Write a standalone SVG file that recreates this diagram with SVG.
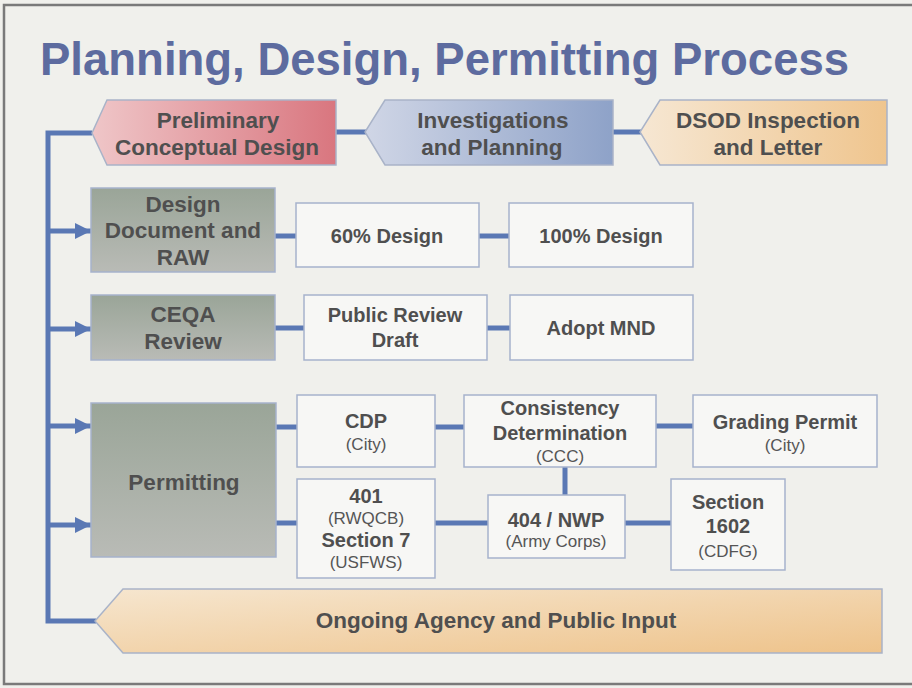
<svg xmlns="http://www.w3.org/2000/svg" width="912" height="688" viewBox="0 0 912 688">
<defs>
<linearGradient id="gRed" x1="0" y1="0" x2="1" y2="0"><stop offset="0" stop-color="#efc6c8"/><stop offset="1" stop-color="#d9767f"/></linearGradient>
<linearGradient id="gBlue" x1="0" y1="0" x2="1" y2="0"><stop offset="0" stop-color="#d0d6e6"/><stop offset="1" stop-color="#8ea2c8"/></linearGradient>
<linearGradient id="gOrange" x1="0" y1="0" x2="1" y2="0"><stop offset="0" stop-color="#f6e7d3"/><stop offset="1" stop-color="#efc58e"/></linearGradient>
<linearGradient id="gOrange2" x1="0" y1="0" x2="1" y2="1"><stop offset="0" stop-color="#f6e6cf"/><stop offset="1" stop-color="#eec38b"/></linearGradient>
<linearGradient id="gGray" x1="0" y1="0" x2="0" y2="1"><stop offset="0" stop-color="#9aa598"/><stop offset="1" stop-color="#b9bbb6"/></linearGradient>
<marker id="arr" markerUnits="userSpaceOnUse" markerWidth="18" markerHeight="18" refX="16" refY="8" orient="auto"><path d="M0,0 L16,8 L0,16 z" fill="#5a78b4"/></marker>
</defs>
<style>
.bg{fill:#f0f0ec}
.frame{fill:none;stroke:#7a7a7a;stroke-width:2.5}
.title{font-family:"Liberation Sans",Arial,sans-serif;font-weight:bold;font-size:45.5px;fill:#5d6b9f}
.ln{fill:none;stroke:#5a78b4;stroke-width:5}
.box{fill:#f7f7f5;stroke:#a6b2cc;stroke-width:1.5}
.shp{stroke:#a9b3c8;stroke-width:1.5}
.gray{fill:url(#gGray);stroke:#a6b2cc;stroke-width:1.5}
.t{font-family:"Liberation Sans",Arial,sans-serif;font-weight:bold;fill:#4f4f4f;text-anchor:middle}
.t22{font-size:22.5px}
.t20{font-size:20px}
.s{font-family:"Liberation Sans",Arial,sans-serif;font-size:17px;fill:#555;text-anchor:middle}
</style>
<rect class="bg" x="0" y="0" width="912" height="688"/>
<rect class="frame" x="4" y="5" width="930" height="679"/>
<text class="title" x="40" y="75">Planning, Design, Permitting Process</text>

<g id="connectors">
<path class="ln" d="M92,133 H48 V621 H96"/>
<path class="ln" d="M48,231 H91" marker-end="url(#arr)"/>
<path class="ln" d="M48,329 H91" marker-end="url(#arr)"/>
<path class="ln" d="M48,426 H91" marker-end="url(#arr)"/>
<path class="ln" d="M48,525 H91" marker-end="url(#arr)"/>
<path class="ln" d="M336,132 H366"/>
<path class="ln" d="M613,132 H641"/>
<path class="ln" d="M275,236 H296"/>
<path class="ln" d="M479,236 H509"/>
<path class="ln" d="M275,328 H304"/>
<path class="ln" d="M487,328 H510"/>
<path class="ln" d="M276,427 H297"/>
<path class="ln" d="M435,427 H464"/>
<path class="ln" d="M656,426 H693"/>
<path class="ln" d="M276,523 H297"/>
<path class="ln" d="M435,523 H488"/>
<path class="ln" d="M565,467 V495"/>
<path class="ln" d="M625,523 H671"/>
</g>

<g id="preliminary">
<polygon class="shp" fill="url(#gRed)" points="107,100 336,100 336,165 107,165 92,133"/>
<text class="t t22" x="218" y="128">Preliminary</text>
<text class="t t22" x="217" y="155">Conceptual Design</text>
</g>
<g id="investigations">
<polygon class="shp" fill="url(#gBlue)" points="385,100 613,100 613,165 385,165 365,132"/>
<text class="t t22" x="493" y="128">Investigations</text>
<text class="t t22" x="492" y="155">and Planning</text>
</g>
<g id="dsod">
<polygon class="shp" fill="url(#gOrange)" points="660,100 887,100 887,165 660,165 640,132"/>
<text class="t t22" x="768" y="128">DSOD Inspection</text>
<text class="t t22" x="768" y="155">and Letter</text>
</g>

<g id="design-doc">
<rect class="gray" x="91" y="188" width="184" height="84"/>
<text class="t t22" x="183" y="212">Design</text>
<text class="t t22" x="183" y="238">Document and</text>
<text class="t t22" x="183" y="265">RAW</text>
</g>
<g id="design60">
<rect class="box" x="296" y="203" width="183" height="64"/>
<text class="t t20" x="387" y="243">60% Design</text>
</g>
<g id="design100">
<rect class="box" x="509" y="203" width="184" height="64"/>
<text class="t t20" x="601" y="243">100% Design</text>
</g>

<g id="ceqa">
<rect class="gray" x="91" y="295" width="184" height="65"/>
<text class="t t22" x="183" y="322">CEQA</text>
<text class="t t22" x="183" y="349">Review</text>
</g>
<g id="public-review">
<rect class="box" x="304" y="295" width="183" height="65"/>
<text class="t t20" x="395" y="322">Public Review</text>
<text class="t t20" x="395" y="347">Draft</text>
</g>
<g id="adopt-mnd">
<rect class="box" x="510" y="295" width="183" height="65"/>
<text class="t t20" x="601" y="335">Adopt MND</text>
</g>

<g id="permitting">
<rect class="gray" x="91" y="403" width="185" height="154"/>
<text class="t t22" x="184" y="490">Permitting</text>
</g>
<g id="cdp">
<rect class="box" x="297" y="395" width="138" height="72"/>
<text class="t t20" x="366" y="428">CDP</text>
<text class="s" x="366" y="450">(City)</text>
</g>
<g id="consistency">
<rect class="box" x="464" y="395" width="192" height="72"/>
<text class="t t20" x="560" y="415">Consistency</text>
<text class="t t20" x="560" y="440">Determination</text>
<text class="s" x="560" y="462">(CCC)</text>
</g>
<g id="grading">
<rect class="box" x="693" y="395" width="184" height="72"/>
<text class="t t20" x="785" y="429">Grading Permit</text>
<text class="s" x="785" y="451">(City)</text>
</g>
<g id="p401">
<rect class="box" x="297" y="479" width="138" height="99"/>
<text class="t t20" x="366" y="503">401</text>
<text class="s" x="366" y="524">(RWQCB)</text>
<text class="t t20" x="366" y="547">Section 7</text>
<text class="s" x="366" y="568">(USFWS)</text>
</g>
<g id="p404">
<rect class="box" x="488" y="495" width="137" height="63"/>
<text class="t t20" x="556" y="527">404 / NWP</text>
<text class="s" x="556" y="547">(Army Corps)</text>
</g>
<g id="s1602">
<rect class="box" x="671" y="479" width="114" height="91"/>
<text class="t t20" x="728" y="509">Section</text>
<text class="t t20" x="728" y="533">1602</text>
<text class="s" x="728" y="557">(CDFG)</text>
</g>

<g id="ongoing">
<polygon class="shp" fill="url(#gOrange2)" points="123,589 882,589 882,653 123,653 95,621"/>
<text class="t t22" x="496" y="628">Ongoing Agency and Public Input</text>
</g>
</svg>
